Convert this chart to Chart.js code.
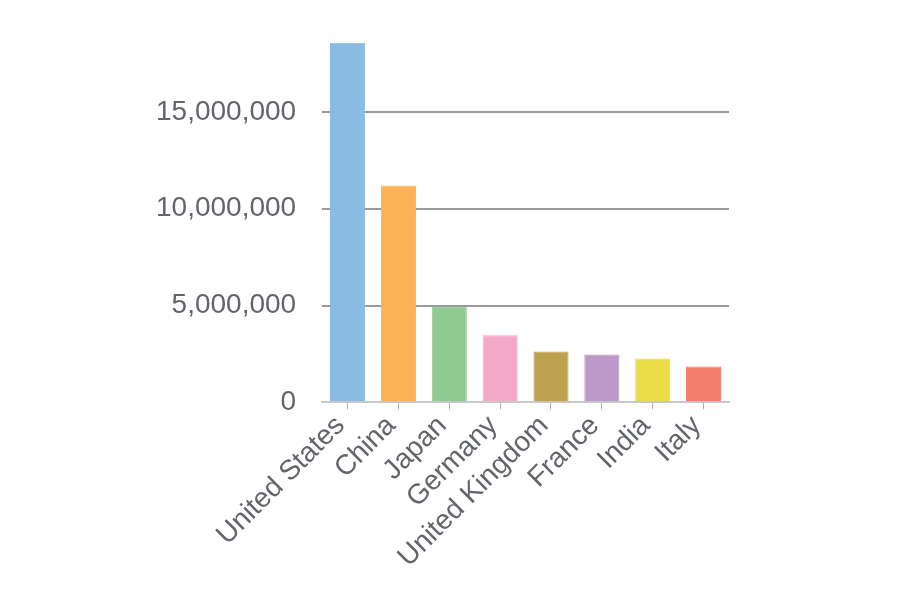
<!DOCTYPE html>
<html>
<head>
<meta charset="utf-8">
<script src="https://cdn.jsdelivr.net/npm/chart.js@4"></script>
<style>
  body { margin: 0; background: #fff; }
  #wrap { width: 900px; height: 600px; }
</style>
</head>
<body>
<div id="wrap"><canvas id="gdp" width="900" height="600"></canvas></div>
<script>
const countries = ["United States", "China", "Japan", "Germany", "United Kingdom", "France", "India", "Italy"];
const gdpValues = [18570000, 11200000, 4940000, 3470000, 2630000, 2470000, 2260000, 1850000];
const barColors = ["#89bbe3", "#fbb157", "#90cc92", "#f4a8c8", "#bea14f", "#bb98c7", "#ecdc47", "#f27e6d"];
const yTicks = [0, 5000000, 10000000, 15000000];

const fontSpec = { family: "'Liberation Sans', Arial, sans-serif", size: 28 };

new Chart(document.getElementById("gdp"), {
  type: "bar",
  data: {
    labels: countries,
    datasets: [{
      data: gdpValues,
      backgroundColor: barColors,
      borderColor: barColors,
      borderWidth: 1,
      barPercentage: 0.69,
      categoryPercentage: 1,
    }],
  },
  options: {
    responsive: false,
    animation: false,
    layout: { padding: { left: 130, right: 171, top: 41, bottom: 26 } },
    plugins: { legend: { display: false }, tooltip: { enabled: false } },
    scales: {
      x: {
        border: { display: true, color: "#c8c8c8", width: 2 },
        grid: { display: true, drawOnChartArea: false, drawTicks: true, tickLength: 7, offset: false, color: "#b0b0b0" },
        ticks: { color: "#62656c", font: fontSpec, minRotation: 45, maxRotation: 45, autoSkip: false, padding: 0, labelOffset: -7 },
      },
      y: {
        min: 0,
        max: Math.max(...gdpValues),
        border: { display: false },
        afterBuildTicks: (axis) => {
          axis.ticks = yTicks.map(v => ({ value: v }));
        },
        grid: {
          color: (ctx) => ctx.tick && ctx.tick.value === 0 ? "#c8c8c8" : "#9a9a9a",
          lineWidth: 2,
          drawTicks: false,
        },
        ticks: {
          color: "#62656c",
          font: fontSpec,
          padding: 26,
          callback: (v) => v.toLocaleString("en-US"),
        },
      },
    },
  },
});
</script>
</body>
</html>
